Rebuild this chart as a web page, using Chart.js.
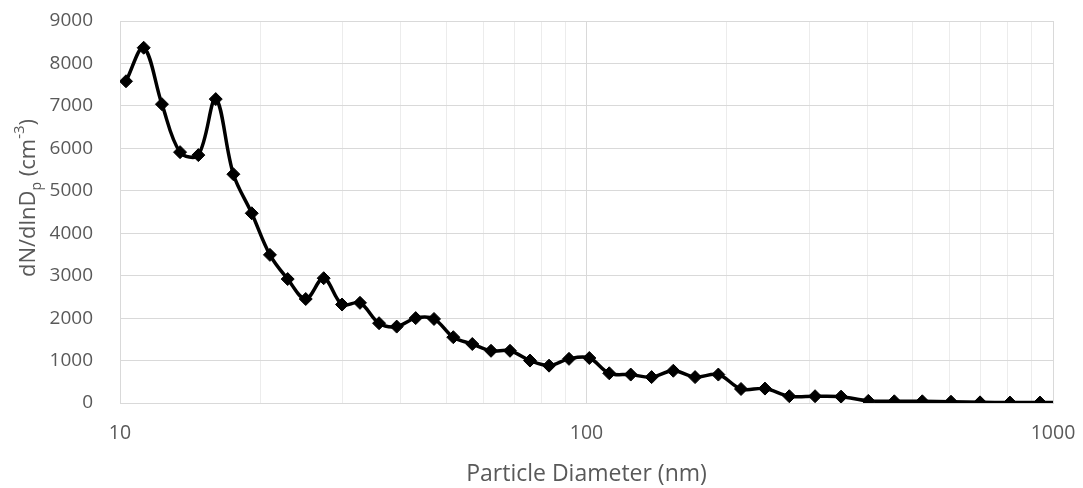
<!DOCTYPE html>
<html>
<head>
<meta charset="utf-8">
<script src="https://cdn.jsdelivr.net/npm/chart.js@4"></script>
<style>
  html, body { margin: 0; padding: 0; background: #ffffff; }
  #wrap { width: 1083px; height: 488px; position: relative; }
</style>
</head>
<body>
<div id="wrap"><canvas id="sizeChart"></canvas></div>
<script>
// particle size distribution, diameter in nm
var diameters = [10.3, 11.24, 12.3, 13.45, 14.72, 16.04, 17.5, 19.16, 20.96, 22.88,
  25.01, 27.33, 29.92, 32.69, 35.92, 39.19, 43.04, 47.11, 51.82, 56.91,
  62.42, 68.55, 75.66, 83.12, 91.73, 101.4, 111.9, 124.4, 137.9, 153.5,
  170.9, 191.7, 214.4, 241.3, 272.1, 309.0, 351.3, 401.9, 456.9, 524.6,
  604.4, 697.6, 808.6, 937.8, 1087];
var concentrations = [7580, 8370, 7040, 5910, 5840, 7160, 5390, 4470, 3490, 2920,
  2450, 2940, 2320, 2360, 1880, 1800, 2000, 1980, 1550, 1390,
  1230, 1230, 1000, 880, 1040, 1060, 700, 670, 610, 760,
  610, 670, 330, 340, 160, 160, 150, 50, 40, 40,
  30, 15, 10, 10, 10];

var xGridValues = [10, 20, 30, 40, 50, 60, 70, 80, 90, 100,
  200, 300, 400, 500, 600, 700, 800, 900, 1000];
var xLabelValues = [10, 100, 1000];
var yMin = 0, yMax = 9000, yStep = 1000;

var textColor = '#595959';
var fontFamily = '"Open Sans", sans-serif';

// y title with subscript and superscript parts
var yTitleParts = [
  { text: 'dN/dlnD', size: 22, shift: 0 },
  { text: 'p', size: 14, shift: 6 },
  { text: ' (cm', size: 22, shift: 0 },
  { text: '-3', size: 15, shift: -11 },
  { text: ')', size: 22, shift: 0 }
];

var yTitlePlugin = {
  id: 'yTitle',
  afterDraw: function (chart) {
    var ctx = chart.ctx;
    var area = chart.chartArea;
    var total = 0;
    ctx.save();
    ctx.fillStyle = textColor;
    ctx.textBaseline = 'alphabetic';
    ctx.textAlign = 'left';
    yTitleParts.forEach(function (p) {
      ctx.font = p.size + 'px ' + fontFamily;
      p.w = ctx.measureText(p.text).width;
      total += p.w;
    });
    ctx.translate(35, (area.top + area.bottom) / 2 - 14);
    ctx.rotate(-Math.PI / 2);
    var x = -total / 2;
    yTitleParts.forEach(function (p) {
      ctx.font = p.size + 'px ' + fontFamily;
      ctx.fillText(p.text, x, p.shift);
      x += p.w;
    });
    ctx.restore();
  }
};

var ctx = document.getElementById('sizeChart').getContext('2d');
var sizeChart = new Chart(ctx, {
  type: 'line',
  data: {
    datasets: [{
      data: diameters.map(function (d, i) { return { x: d, y: concentrations[i] }; }),
      borderColor: '#000000',
      backgroundColor: '#000000',
      borderWidth: 3.5,
      tension: 0.35,
      pointStyle: 'rectRot',
      pointRadius: 6.5,
      pointBorderWidth: 1,
      pointBackgroundColor: '#000000',
      pointBorderColor: '#000000',
      fill: false
    }]
  },
  options: {
    responsive: true,
    maintainAspectRatio: false,
    animation: false,
    layout: { padding: { left: 0, right: 30, top: 21, bottom: 0 } },
    plugins: {
      legend: { display: false },
      tooltip: { enabled: false }
    },
    scales: {
      x: {
        type: 'logarithmic',
        min: 10,
        max: 1000,
        afterBuildTicks: function (scale) {
          scale.ticks = xGridValues.map(function (v) { return { value: v }; });
        },
        afterFit: function (scale) { scale.height = 85; },
        ticks: {
          autoSkip: false,
          maxRotation: 0,
          padding: 0,
          color: textColor,
          font: { family: fontFamily, size: 19.5 },
          callback: function (value) {
            return xLabelValues.indexOf(value) >= 0 ? String(value) : '';
          }
        },
        grid: {
          drawTicks: true,
          tickLength: 19,
          tickColor: 'rgba(0,0,0,0)',
          lineWidth: 1,
          color: function (c) {
            var v = c.tick ? c.tick.value : null;
            return xLabelValues.indexOf(v) >= 0 ? '#d9d9d9' : '#ececec';
          }
        },
        border: { color: '#d9d9d9', width: 1 },
        title: {
          display: true,
          text: 'Particle Diameter (nm)',
          color: textColor,
          font: { family: fontFamily, size: 23 },
          padding: { top: 0, bottom: 0 }
        }
      },
      y: {
        min: yMin,
        max: yMax,
        afterFit: function (scale) { scale.width = 120; },
        ticks: {
          stepSize: yStep,
          padding: 0,
          color: textColor,
          font: { family: fontFamily, size: 19 },
          callback: function (value) { return String(value); }
        },
        grid: {
          drawTicks: true,
          tickLength: 27,
          tickColor: 'rgba(0,0,0,0)',
          lineWidth: 1,
          color: '#d9d9d9'
        },
        border: { color: '#d9d9d9', width: 1 }
      }
    }
  },
  plugins: [yTitlePlugin]
});
</script>
</body>
</html>
